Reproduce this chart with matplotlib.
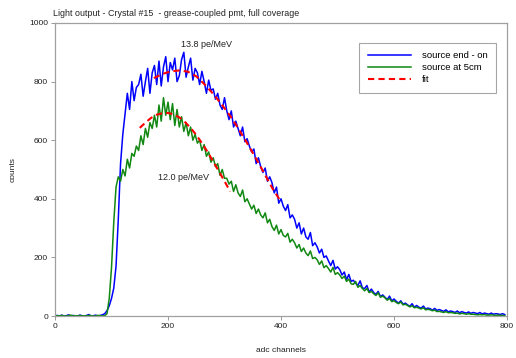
import numpy as np
import matplotlib
matplotlib.use("Agg")
import matplotlib.pyplot as plt

plt.rcParams['font.family'] = ['Liberation Sans', 'DejaVu Sans']

# adc channel grid, 4 channels per point (10 points = 40 channels per row below)
channels = np.arange(0, 800, 4)

source_end = [
    0, 2, 0, 3, 0, 1, 4, 0, 2, 0,
    0, 3, 1, 0, 2, 5, 0, 1, 3, 0,
    2, 4, 8, 18, 35, 60, 95, 170, 330, 520,
    620, 690, 760, 705, 800, 735, 780, 790, 825, 750,
    800, 845, 760, 830, 855, 790, 870, 785, 850, 885,
    800, 865, 840, 880, 800, 820, 875, 900, 815, 850,
    880, 805, 845, 830, 790, 835, 800, 760, 805, 770,
    775, 740, 760, 720, 705, 745, 700, 670, 700, 645,
    665, 640, 615, 645, 595, 605, 580, 560, 570, 520,
    540, 510, 490, 505, 460, 475, 455, 420, 440, 385,
    400, 375, 360, 380, 335, 345, 330, 300, 318, 280,
    300, 270, 262, 285, 240, 250, 236, 215, 228, 200,
    205, 188, 172, 190, 160, 168, 158, 140, 150, 124,
    142, 118, 122, 112, 104, 120, 96, 94, 104, 82,
    92, 80, 74, 84, 66, 72, 64, 56, 68, 52,
    58, 50, 44, 52, 40, 44, 38, 33, 42, 30,
    36, 30, 27, 34, 24, 27, 25, 20, 26, 19,
    22, 19, 16, 21, 14, 17, 15, 12, 17, 11,
    15, 12, 10, 14, 9, 12, 10, 8, 12, 7,
    10, 8, 6, 10, 6, 8, 7, 5, 8, 5,
]

source_5cm = [
    0, 1, 0, 2, 0, 0, 1, 3, 0, 1,
    0, 2, 0, 1, 0, 2, 1, 0, 0, 2,
    1, 0, 1, 8, 60, 165, 320, 440, 475, 460,
    500, 478, 535, 505, 555, 545, 580, 565, 615, 585,
    640, 610, 660, 640, 685, 645, 720, 665, 745, 685,
    730, 670, 725, 650, 705, 645, 680, 630, 660, 615,
    645, 600, 620, 590, 600, 565, 585, 545, 560, 525,
    540, 510, 520, 480, 500, 470, 470, 450, 460, 425,
    448, 420, 408, 430, 390, 400, 382, 365, 378, 350,
    365, 345, 335, 352, 318, 330, 305, 292, 310, 280,
    295, 275, 270, 282, 252, 262, 250, 232, 244, 220,
    232, 215, 206, 222, 196, 200, 192, 176, 188, 165,
    172, 162, 150, 166, 142, 148, 140, 128, 136, 118,
    126, 110, 108, 118, 98, 104, 94, 86, 94, 80,
    84, 76, 70, 79, 64, 68, 62, 54, 60, 49,
    52, 46, 42, 48, 38, 40, 36, 31, 35, 28,
    30, 27, 24, 28, 21, 23, 21, 18, 20, 15,
    16, 14, 12, 15, 11, 12, 11, 9, 10, 7,
    9, 8, 6, 8, 6, 6, 5, 4, 5, 4,
    5, 3, 3, 4, 3, 2, 3, 2, 2, 1,
]

fit_end_x = [175, 190, 205, 220, 235, 250, 265, 280, 295, 310, 325, 340, 355, 370, 385, 400]
fit_end_y = [812, 826, 835, 838, 834, 818, 790, 758, 722, 683, 638, 590, 540, 488, 435, 390]

fit_5cm_x = [150, 160, 170, 180, 190, 200, 210, 220, 230, 240, 250, 260, 270, 280, 290, 300, 310]
fit_5cm_y = [642, 660, 676, 687, 692, 693, 688, 678, 662, 642, 618, 590, 560, 527, 494, 460, 425]

fig = plt.figure(figsize=(5.16, 3.58), dpi=100)
ax = fig.add_axes([0.1066, 0.1173, 0.876, 0.8185])

ax.plot(channels, source_end, color='#0000ff', lw=1.1, label='source end - on')
ax.plot(channels, source_5cm, color='#118811', lw=1.1, label='source at 5cm')
ax.plot(fit_end_x, fit_end_y, color='#ff0000', lw=1.5, ls=(0, (3, 2)), label='fit')
ax.plot(fit_5cm_x, fit_5cm_y, color='#ff0000', lw=1.5, ls=(0, (3, 2)))

ax.set_xlim(0, 800)
ax.set_ylim(0, 1000)
ax.set_xticks(range(0, 801, 200))
ax.set_yticks(range(0, 1001, 200))
ax.tick_params(labelsize=6, length=3, width=0.6, color='#888888', labelcolor='#222222', pad=2)
for s in ax.spines.values():
    s.set_color('#a0a0a0')
    s.set_linewidth(0.9)

ax.set_xlabel('adc channels', fontsize=6, color='#222222', labelpad=12)
ax.set_ylabel('counts', fontsize=6, color='#222222', labelpad=9)
ax.set_title('Light output - Crystal #15  - grease-coupled pmt, full coverage',
             fontsize=6.4, color='#222222', loc='left', x=-0.005, pad=5)

ax.text(269, 928, '13.8 pe/MeV', fontsize=6.5, ha='center', va='center', color='#222222')
ax.text(228, 471, '12.0 pe/MeV', fontsize=6.5, ha='center', va='center', color='#222222')

leg = ax.legend(loc='upper left', bbox_to_anchor=(0.673, 0.932), borderaxespad=0,
                fontsize=6.8, frameon=True, fancybox=False, handlelength=4.6,
                handletextpad=1.1, borderpad=0.9, labelspacing=0.3)
leg.get_frame().set_edgecolor('#909090')
leg.get_frame().set_linewidth(0.8)

fig.savefig('out.png', dpi=100)
